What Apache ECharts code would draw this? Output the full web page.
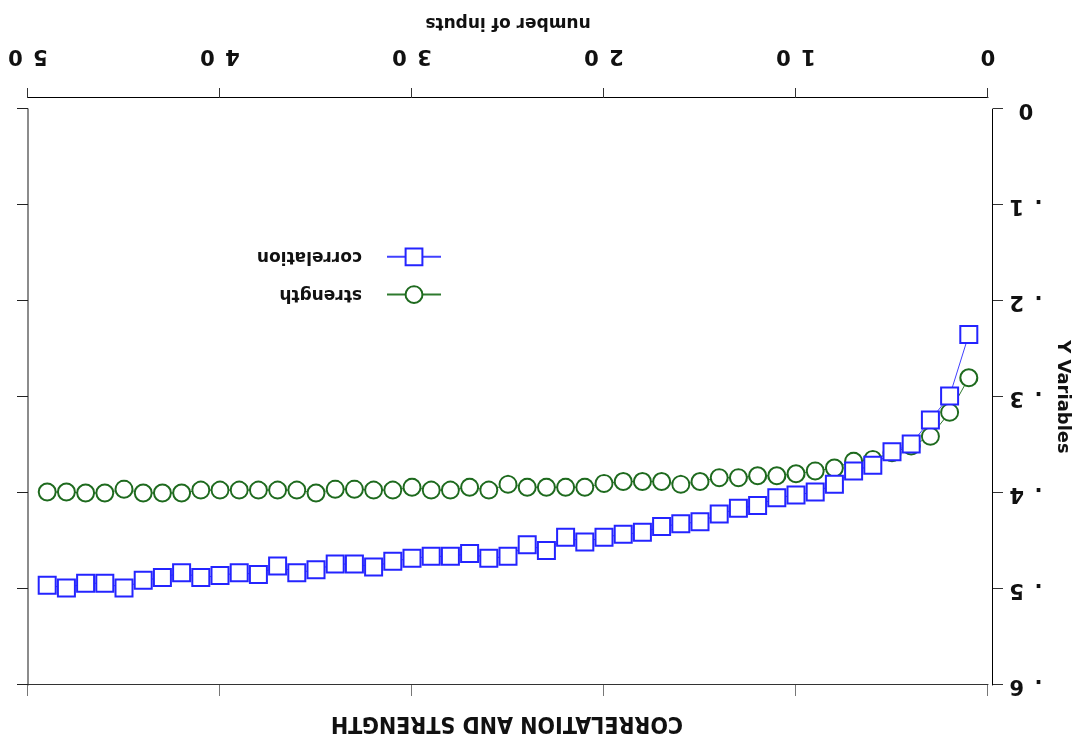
<!DOCTYPE html>
<html>
<head>
<meta charset="utf-8">
<script src="https://cdn.jsdelivr.net/npm/echarts@6/dist/echarts.min.js"></script>
<style>
html, body { margin: 0; padding: 0; background: #fff; }
/* the reference is drawn upside down, so the whole chart is turned over */
#main { width: 1081px; height: 744px; transform: rotate(180deg); }
</style>
</head>
<body>
<div id="main"></div>
<script>
// number of inputs
const inputs = [1, 2, 3, 4, 5, 6, 7, 8, 9, 10, 11, 12, 13, 14, 15, 16, 17, 18, 19, 20,
  21, 22, 23, 24, 25, 26, 27, 28, 29, 30, 31, 32, 33, 34, 35, 36, 37, 38, 39, 40,
  41, 42, 43, 44, 45, 46, 47, 48, 49];

const correlation = [0.235, 0.299, 0.324, 0.349, 0.357, 0.371, 0.377, 0.391, 0.399, 0.402,
  0.405, 0.413, 0.416, 0.422, 0.430, 0.432, 0.435, 0.441, 0.443, 0.446,
  0.451, 0.446, 0.460, 0.454, 0.466, 0.468, 0.463, 0.466, 0.466, 0.468,
  0.471, 0.477, 0.474, 0.474, 0.480, 0.483, 0.476, 0.485, 0.483, 0.486,
  0.488, 0.483, 0.488, 0.491, 0.499, 0.494, 0.494, 0.499, 0.496];

const strength = [0.280, 0.316, 0.341, 0.351, 0.358, 0.365, 0.367, 0.374, 0.377, 0.380,
  0.382, 0.382, 0.384, 0.384, 0.388, 0.391, 0.388, 0.388, 0.388, 0.390,
  0.394, 0.394, 0.394, 0.394, 0.391, 0.397, 0.394, 0.397, 0.397, 0.394,
  0.397, 0.397, 0.396, 0.396, 0.400, 0.397, 0.397, 0.397, 0.397, 0.397,
  0.397, 0.400, 0.400, 0.400, 0.396, 0.400, 0.400, 0.399, 0.399];

const xTicks = [0, 10, 20, 30, 40, 50];
const yTicks = [0, 0.1, 0.2, 0.3, 0.4, 0.5, 0.6];

const font = "DejaVu Sans";
const shadow = { textShadowColor: "#8a8a8a", textShadowOffsetX: 1.5, textShadowOffsetY: 1, textShadowBlur: 0 };

// spread the digits out like the original tick labels
function spread(s) {
  return s.split("").join("\u2002");
}

let chart = echarts.init(document.getElementById("main"), null, { renderer: "canvas" });

let option = {
  backgroundColor: "#fff",
  animation: false,
  title: {
    text: "CORRELATION AND STRENGTH",
    left: 569,
    top: 5,
    textAlign: "center",
    textStyle: Object.assign({ fontFamily: "DejaVu Sans Condensed", fontWeight: "bold", fontSize: 23, color: "#111" }, shadow)
  },
  legend: {
    orient: "vertical",
    left: 639,
    top: 440,
    padding: 0,
    itemWidth: 54,
    itemHeight: 21,
    itemGap: 19,
    data: ["strength", "correlation"],
    textStyle: Object.assign({ fontFamily: font, fontWeight: "bold", fontSize: 17, color: "#111", padding: [0, 0, 0, 20] }, shadow)
  },
  grid: { left: 93, right: 28, top: 59, bottom: 109 },
  xAxis: [
    {
      type: "value",
      position: "bottom",
      offset: 11,
      min: xTicks[0],
      max: xTicks[xTicks.length - 1],
      interval: 10,
      name: "number of inputs",
      nameLocation: "middle",
      nameGap: 67,
      nameTextStyle: Object.assign({ fontFamily: font, fontWeight: "bold", fontSize: 17, color: "#111" }, shadow),
      axisLine: { show: true, onZero: false, lineStyle: { color: "#000", width: 1 } },
      axisTick: { show: true, length: 10, lineStyle: { color: "#333" } },
      axisLabel: Object.assign({
        margin: 32,
        fontFamily: font, fontWeight: "bold", fontSize: 21, color: "#111",
        formatter: function (v) { return spread(String(v)); }
      }, shadow),
      splitLine: { show: false }
    },
    {
      type: "value",
      position: "top",
      min: xTicks[0],
      max: xTicks[xTicks.length - 1],
      interval: 10,
      axisLine: { show: true, onZero: false, lineStyle: { color: "#333", width: 1 } },
      axisTick: { show: true, length: 11, lineStyle: { color: "#777" } },
      axisLabel: { show: false },
      splitLine: { show: false }
    }
  ],
  yAxis: [
    {
      type: "value",
      position: "left",
      offset: 5,
      min: yTicks[0],
      max: yTicks[yTicks.length - 1],
      interval: 0.1,
      name: "Y Variables",
      nameLocation: "middle",
      nameGap: 59,
      nameTextStyle: Object.assign({ fontFamily: font, fontWeight: "bold", fontSize: 18, color: "#111" }, shadow),
      axisLine: { show: true, onZero: false, lineStyle: { color: "#000", width: 1 } },
      axisTick: { show: true, length: 10, lineStyle: { color: "#333" } },
      axisLabel: Object.assign({
        margin: 33,
        align: "center",
        fontFamily: font, fontWeight: "bold", fontSize: 21, color: "#111",
        formatter: function (v) {
          let n = Math.round(v * 10);
          return n === 0 ? "0" : spread("." + n);
        }
      }, shadow),
      splitLine: { show: false }
    },
    {
      type: "value",
      position: "right",
      min: yTicks[0],
      max: yTicks[yTicks.length - 1],
      interval: 0.1,
      axisLine: { show: true, onZero: false, lineStyle: { color: "#666", width: 1.5 } },
      axisTick: { show: true, length: 11, lineStyle: { color: "#222" } },
      axisLabel: { show: false },
      splitLine: { show: false }
    }
  ],
  series: [
    {
      name: "strength",
      type: "line",
      xAxisIndex: 0,
      yAxisIndex: 0,
      z: 2,
      symbol: "emptyCircle",
      symbolSize: 17,
      color: "#1e6a1e",
      lineStyle: { color: "#2e7a2e", width: 1 },
      itemStyle: { color: "#1e6a1e", borderWidth: 1.3 },
      data: inputs.map((x, i) => [x, strength[i]])
    },
    {
      name: "correlation",
      type: "line",
      xAxisIndex: 0,
      yAxisIndex: 0,
      z: 3,
      symbol: "emptyRect",
      symbolSize: 17,
      color: "#2424ff",
      lineStyle: { color: "#4040ff", width: 1 },
      itemStyle: { color: "#2424ff", borderWidth: 1.3 },
      data: inputs.map((x, i) => [x, correlation[i]])
    }
  ]
};

chart.setOption(option);
</script>
</body>
</html>
